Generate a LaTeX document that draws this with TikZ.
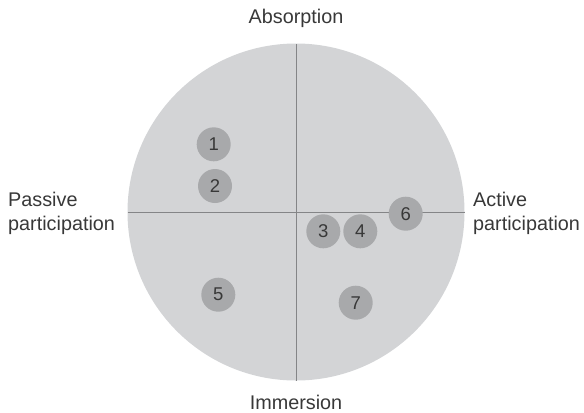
\documentclass[tikz,border=0pt]{standalone}
\usepackage{fontspec}
\setmainfont{Liberation Sans}
\definecolor{bigfill}{HTML}{D3D4D6}
\definecolor{dotfill}{HTML}{A8A9AB}
\definecolor{axis}{HTML}{848587}
\definecolor{txt}{HTML}{383838}
\begin{document}
\begin{tikzpicture}[x=1bp,y=-1bp,
  dot/.style={circle,fill=dotfill,minimum size=34bp,inner sep=0pt,text=txt,font=\fontsize{18.5bp}{20bp}\selectfont},
  lbl/.style={text=txt,font=\fontsize{19.8bp}{24bp}\selectfont,inner sep=0pt},
  axisline/.style={draw=axis,line width=1bp}]
\useasboundingbox (0,0) rectangle (584,412);
\fill[bigfill] (296,212) circle[radius=168.5];
\coordinate (top) at (296,44);
\coordinate (bot) at (296,380.5);
\coordinate (lft) at (127.5,212);
\coordinate (rgt) at (464.5,212);
\draw[axisline] (top) -- (bot);
\draw[axisline] (lft) -- (rgt);
\node[dot] (n1) at (213.7,144.3) {1};
\node[dot] (n2) at (215,186) {2};
\node[dot] (n3) at (323.3,231.3) {3};
\node[dot] (n4) at (360.3,231.3) {4};
\node[dot] (n6) at (405.7,213.7) {6};
\node[dot] (n5) at (218.3,294.7) {5};
\node[dot] (n7) at (355.7,302.7) {7};
\node[lbl] (abs) at (296,18) {Absorption};
\node[lbl] (imm) at (296,402) {Immersion};
\node[lbl,align=left,anchor=west] (pas) at (8,213) {Passive\\participation};
\node[lbl,align=left,anchor=west] (act) at (473,213) {Active\\participation};
\end{tikzpicture}
\end{document}
